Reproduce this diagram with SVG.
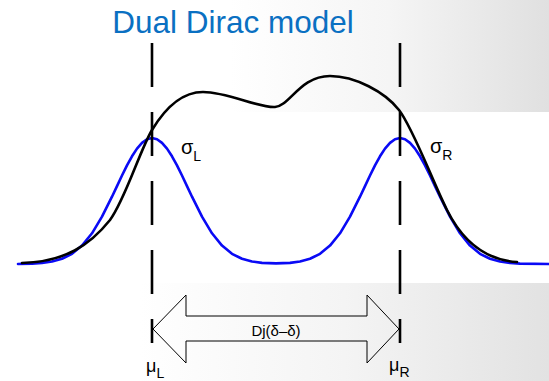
<svg xmlns="http://www.w3.org/2000/svg" width="549" height="381" viewBox="0 0 549 381">
<defs>
<linearGradient id="bgTop" x1="230" y1="0" x2="549" y2="0" gradientUnits="userSpaceOnUse">
<stop offset="0" stop-color="#ffffff"/>
<stop offset="0.5" stop-color="#f5f5f5"/>
<stop offset="1" stop-color="#e0e0e0"/>
</linearGradient>
<linearGradient id="bgBot" x1="140" y1="0" x2="549" y2="0" gradientUnits="userSpaceOnUse">
<stop offset="0" stop-color="#ffffff"/>
<stop offset="0.5" stop-color="#f4f4f4"/>
<stop offset="1" stop-color="#e2e2e2"/>
</linearGradient>
</defs>
<style>
.lbl{font-family:"Liberation Sans",Arial,sans-serif;fill:#000}
.dash{stroke:#000;stroke-width:2.6;stroke-dasharray:44 25;fill:none}
.curve{fill:none;stroke-width:2.6;stroke-linejoin:round;stroke-linecap:round}
</style>
<rect x="0" y="0" width="549" height="381" fill="#ffffff"/>
<rect x="230" y="0" width="319" height="112" fill="url(#bgTop)"/>
<rect x="140" y="283" width="409" height="98" fill="url(#bgBot)"/>
<g id="title">
<text class="lbl" x="233" y="33" font-size="31.5" text-anchor="middle" style="fill:#0a70c2">Dual Dirac model</text>
</g>
<g id="blue-curve">
<polyline class="curve" stroke="#0a0af5" points="18,264 32,263.6 42,262.9 52,261.5 62,258.75 72,253.8 82,245.6 92,233.3 102,216.7 112,196.7 117,186.1 122,175.5 127,165.4 132,156.3 137,148.6 142,142.9 147,139.2 152,138 157,139.2 162,142.9 167,148.6 172,156.3 177,165.4 182,175.5 187,186.1 192,196.7 202,216.7 212,233.3 222,245.6 232,253.8 242,258.75 252,261.5 262,262.9 276,263.4 290,262.9 300,261.5 310,258.75 320,253.8 330,245.6 340,233.3 350,216.7 360,196.7 365,186.1 370,175.5 375,165.4 380,156.3 385,148.6 390,142.9 395,139.2 400,138 405,139.2 410,142.9 415,148.6 420,156.3 425,165.4 430,175.5 435,186.1 440,196.7 450,216.7 460,233.3 470,245.6 480,253.8 490,258.75 500,261.5 510,262.9 520,263.6 549,264"/>
</g>
<g id="black-curve">
<path class="curve" stroke="#000" d="M22,263 C65,262 90,245 110,220 C125,200 140,150 152,130 C164,110 180,92 203,92 C228,92 258,108 275,107 C290,106 300,76 330,76 C355,76 385,92 399,110 C413,128 432,180 447,210 C462,240 485,260 517,262"/>
</g>
<g id="connectors">
<line id="mu-L-line" class="dash" x1="152" y1="43" x2="152" y2="343"/>
<line id="mu-R-line" class="dash" x1="400" y1="43" x2="400" y2="343"/>
<path id="dj-arrow" d="M153,329 L186,295 L186,316 L367,316 L367,295 L399,329 L367,363 L367,341 L186,341 L186,363 Z" fill="none" stroke="#000" stroke-width="1" stroke-linejoin="miter"/>
</g>
<g id="label-sigma-L">
<text class="lbl" x="181" y="154" font-size="20">σ<tspan font-size="14" dy="7">L</tspan></text>
</g>
<g id="label-sigma-R">
<text class="lbl" x="430" y="153" font-size="20">σ<tspan font-size="14" dy="7">R</tspan></text>
</g>
<g id="label-dj">
<text class="lbl" x="276" y="336" font-size="15" text-anchor="middle">Dj(δ–δ)</text>
</g>
<g id="label-mu-L">
<text class="lbl" x="146" y="372" font-size="18">μ<tspan font-size="14" dy="6">L</tspan></text>
</g>
<g id="label-mu-R">
<text class="lbl" x="389" y="371" font-size="18">μ<tspan font-size="14" dy="6">R</tspan></text>
</g>
</svg>
